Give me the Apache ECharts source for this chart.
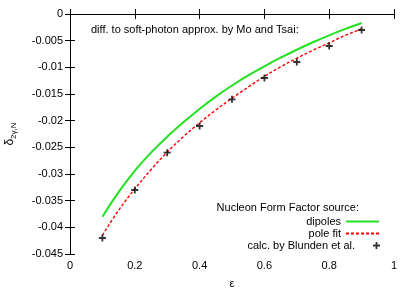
<!DOCTYPE html>
<html><head><meta charset="utf-8">
<script src="https://cdn.jsdelivr.net/npm/echarts@6/dist/echarts.min.js"></script>
<style>html,body{margin:0;padding:0;background:#fff}#c{width:415px;height:291px}</style>
</head><body><div id="c"></div>
<script>
// curve abscissae (epsilon)
var epsCurve = [0.1,0.15,0.2,0.25,0.3,0.35,0.4,0.45,0.5,0.55,0.6,0.65,0.7,0.75,0.8,0.85,0.9];
// dipoles (green)
var dipoles = [-0.0380,-0.0334,-0.0294,-0.0260,-0.0230,-0.0203,-0.0178,-0.0155,-0.0134,-0.0115,-0.0098,-0.0082,-0.0067,-0.0053,-0.0040,-0.0028,-0.0017];
// pole fit (red dashed)
var poleFit = [-0.0415,-0.0368,-0.0328,-0.0292,-0.0259,-0.0230,-0.0204,-0.0180,-0.0158,-0.0137,-0.0117,-0.0099,-0.0083,-0.0068,-0.0054,-0.0040,-0.0028];
// calc. by Blunden et al.
var epsCalc = [0.1,0.2,0.3,0.4,0.5,0.6,0.7,0.8,0.9];
var blunden = [-0.042,-0.033,-0.026,-0.021,-0.016,-0.012,-0.009,-0.006,-0.003];

var FONT = 'Liberation Sans, Arial, Helvetica, sans-serif';
var chart = echarts.init(document.getElementById('c'), null, {renderer:'canvas'});
function zip(xs, ys){ return xs.map(function(x,i){return [x, ys[i]];}); }
var axisCommon = {
  axisLine:{show:true, lineStyle:{color:'#000', width:1}},
  axisTick:{show:true, inside:true, length:5, lineStyle:{color:'#000'}},
  splitLine:{show:false}
};
var cross = 'path://M2.6,0H4.4V2.6H7V4.4H4.4V7H2.6V4.4H0V2.6H2.6Z';
var legText = {fontSize:11, color:'#000', fontFamily:FONT};
chart.setOption({
  animation:false,
  textStyle:{fontFamily:FONT},
  grid:{left:70, right:21, top:14, bottom:37, containLabel:false, outerBoundsMode:'none'},
  xAxis:[
    Object.assign({type:'value', min:0, max:1, interval:0.2, position:'bottom',
      name:'ε', nameLocation:'middle', nameGap:24,
      nameTextStyle:{fontSize:11, color:'#000', fontFamily:FONT},
      axisLabel:{fontSize:11, color:'#000', margin:6, fontFamily:FONT,
        formatter:function(v){return String(+v.toFixed(1));}}}, axisCommon),
    Object.assign({type:'value', min:0, max:1, interval:0.2, position:'top',
      axisLabel:{show:false}}, axisCommon)
  ],
  yAxis:[
    Object.assign({type:'value', min:-0.045, max:0, interval:0.005, position:'left',
      name:'{a|δ}{b|2γ,N}', nameLocation:'middle', nameGap:52, nameRotate:90,
      nameTextStyle:{color:'#000', rich:{
        a:{fontSize:12, fontFamily:FONT, color:'#000', lineHeight:16, verticalAlign:'middle'},
        b:{fontSize:8, fontFamily:FONT, color:'#000', lineHeight:16, verticalAlign:'bottom', padding:[6,0,0,0]}}},
      axisLabel:{fontSize:11, color:'#000', margin:7, fontFamily:FONT,
        formatter:function(v){return String(+v.toFixed(3));}}}, axisCommon),
    Object.assign({type:'value', min:-0.045, max:0, interval:0.005, position:'right',
      axisLabel:{show:false}}, axisCommon)
  ],
  legend:[
    {data:['dipoles'], orient:'vertical', right:35, top:216, align:'right', itemWidth:33, itemHeight:8,
      itemGap:0, padding:0, textStyle:legText, itemStyle:{opacity:0}},
    {data:['pole fit'], orient:'vertical', right:35, top:228, align:'right', itemWidth:33, itemHeight:8,
      itemGap:0, padding:0, textStyle:legText, itemStyle:{opacity:0}},
    {data:['calc. by Blunden et al.'], orient:'vertical', right:35, top:240, align:'right', itemWidth:33, itemHeight:7,
      itemGap:0, padding:0, textStyle:legText}
  ],
  graphic:[
    {type:'text', left:91, top:24, style:{text:'diff. to soft-photon approx. by Mo and Tsai:', fill:'#000', font:'11px '+FONT}},
    {type:'text', right:56, top:202, style:{text:'Nucleon Form Factor source:', fill:'#000', font:'11px '+FONT}}
  ],
  series:[
    {name:'dipoles', type:'line', data:zip(epsCurve, dipoles), smooth:0.4, symbol:'none',
      lineStyle:{color:'#22e022', width:2}, itemStyle:{color:'#22e022'}},
    {name:'pole fit', type:'line', data:zip(epsCurve, poleFit), smooth:0.4, symbol:'none',
      lineStyle:{color:'#ff0000', width:1.4, type:[3,2]}, itemStyle:{color:'#ff0000'}},
    {name:'calc. by Blunden et al.', type:'scatter', data:zip(epsCalc, blunden), symbol:cross, symbolSize:7,
      itemStyle:{color:'#000'}, z:5}
  ]
});
</script></body></html>
